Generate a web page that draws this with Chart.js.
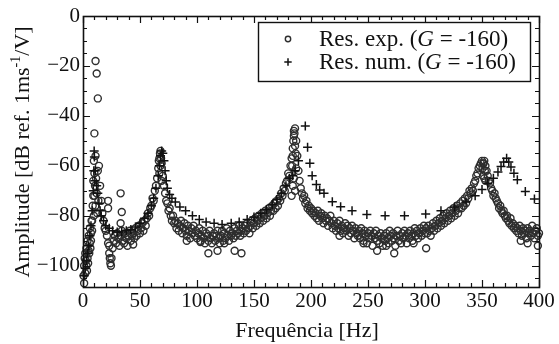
<!DOCTYPE html>
<html>
<head>
<meta charset="utf-8">
<script src="https://cdn.jsdelivr.net/npm/chart.js@4/dist/chart.umd.min.js"></script>
<style>
  html, body { margin: 0; padding: 0; background: #fff; }
</style>
</head>
<body>
<canvas id="frf" width="559" height="344"></canvas>
<script>
// measured response, one spectral line per Hz starting at 1 Hz
var expStartHz = 1;
var expAmp = [
  -107, -103, -100, -97, -94, -91, -87, -82, -72, -47,
  -18, -23, -33, -60, -68, -74, -79, -82, -85, -86,
  -88, -91, -95, -99, -97, -93, -90, -88, -91, -87,
  -89, -92, -88, -86, -90, -91, -87, -89, -92, -88,
  -86, -90, -88, -87, -89, -85, -88, -86, -84, -87,
  -85, -83, -86, -82, -84, -81, -79, -80, -77, -76,
  -73, -74, -70, -68, -65, -61, -57, -54, -59, -64,
  -68, -71, -74, -75, -78, -77, -80, -82, -80, -83,
  -82, -85, -83, -86, -84, -82, -87, -85, -83, -86,
  -88, -84, -86, -89, -85, -87, -84, -88, -86, -89,
  -87, -85, -90, -88, -86, -89, -91, -87, -88, -90,
  -86, -89, -91, -88, -87, -90, -88, -86, -89, -91,
  -88, -86, -90, -87, -89, -85, -88, -90, -86, -88,
  -87, -89, -85, -88, -86, -87, -84, -88, -86, -85,
  -87, -84, -86, -83, -85, -87, -84, -82, -85, -83,
  -81, -84, -82, -80, -83, -81, -79, -82, -80, -78,
  -81, -79, -77, -80, -78, -76, -78, -75, -77, -74,
  -76, -73, -74, -71, -72, -69, -70, -67, -66, -63,
  -64, -60, -57, -53, -48, -45, -50, -56, -62, -66,
  -69, -71, -73, -72, -75, -74, -77, -76, -78, -77,
  -79, -78, -80, -79, -81, -78, -82, -80, -79, -81,
  -83, -80, -82, -81, -84, -82, -80, -83, -85, -82,
  -84, -86, -83, -85, -82, -86, -84, -87, -85, -83,
  -86, -84, -88, -85, -87, -84, -86, -89, -85, -87,
  -88, -86, -89, -85, -87, -90, -86, -88, -91, -87,
  -89, -86, -88, -92, -87, -89, -86, -90, -88, -91,
  -87, -89, -92, -88, -90, -87, -89, -91, -86, -88,
  -90, -87, -89, -92, -88, -86, -90, -88, -91, -87,
  -89, -86, -88, -91, -87, -89, -86, -88, -90, -87,
  -85, -88, -86, -89, -87, -85, -88, -86, -84, -87,
  -85, -87, -84, -86, -88, -85, -83, -86, -84, -82,
  -85, -83, -81, -84, -82, -80, -83, -81, -79, -82,
  -80, -78, -81, -79, -77, -80, -78, -76, -79, -77,
  -75, -77, -74, -76, -73, -75, -72, -73, -70, -71,
  -69, -70, -67, -66, -64, -63, -61, -60, -59, -58,
  -59, -58, -60, -62, -64, -66, -67, -69, -70, -72,
  -71, -73, -74, -75, -77, -76, -78, -79, -78, -80,
  -81, -80, -82, -83, -81, -84, -83, -85, -84, -86,
  -85, -87, -84, -86, -88, -85, -87, -86, -89, -85,
  -87, -86, -88, -84, -87, -89, -86, -85, -88, -87
];

// extra measured points (zoom lines near the peaks, scattered low readings)
var expExtraHz = [
  0.5, 1, 1.5, 2, 2.5, 3, 3.5, 4, 4.5, 5, 5.5, 6, 6.5, 7, 7.5, 8,
  8.5, 9, 9.5, 9.5, 10, 10, 10.5, 11, 11, 11.5, 12, 12.5, 13, 13.5,
  22, 22, 33, 34, 33, 23, 23.5, 24.5,
  44, 91, 103, 110, 118, 124, 133, 139,
  66.5, 67.5, 68.5, 67, 69, 68,
  183.5, 184, 184.5, 185, 185.5, 186, 186.5, 187, 185, 184, 186, 183,
  225, 246, 258, 266, 273, 290, 301,
  350.5, 351.5, 352.5, 352, 353, 351,
  384, 390, 399
];
var expExtraAmp = [
  -104, -100, -97, -95, -98, -93, -102, -90, -99, -88, -95, -85, -93, -90, -82, -86,
  -76, -66, -58, -80, -63, -72, -68, -56, -76, -65, -71, -79, -62, -74,
  -74, -77, -71, -78.5, -83, -92, -97, -100,
  -91.5, -90, -90.5, -95, -94, -91, -94, -95,
  -58, -55, -57, -63, -66, -60,
  -60, -56, -50, -46, -47, -52, -55, -61, -65, -68, -70, -72,
  -88, -91, -94, -92, -95, -91, -93,
  -61, -59, -62, -65, -66, -64,
  -90, -91, -92
];

// numerical response
var numHz = [
  1, 2, 3, 4, 5, 6, 7, 8, 9, 9.5, 9.8, 10, 10.4, 10.8, 12, 13, 14, 15, 16, 18,
  20, 23, 26, 30, 34, 38, 42, 46, 50, 54, 57, 60, 62, 64, 66, 67, 68, 69, 70, 71,
  72, 73, 74, 76, 78, 81, 85, 90, 96, 102, 108, 115, 122, 130, 137, 144, 150, 156, 161, 166,
  170, 174, 178, 181, 184, 186, 189, 195, 197, 199, 201, 204.7, 207.6, 211.4, 218.7, 226, 236, 249, 265, 282,
  300.6, 314, 326, 336, 344, 350, 355, 360, 364, 366.7, 369, 371.6, 373.5, 375.4, 378, 381, 388, 396
];
var numAmp = [
  -104, -101, -98, -95, -92, -88, -84, -78, -70, -62, -54, -56.5, -66, -62, -68, -71, -75, -78, -80, -82,
  -84, -85, -86, -86.5, -86.5, -86, -85.5, -84.5, -83, -81, -79, -76, -73, -69, -64, -60, -56, -54, -55, -58,
  -62, -66, -69, -71.5, -73, -74.5, -76.5, -78, -80, -81.5, -82.5, -83, -83.5, -83, -82.5, -81.5, -80.5, -79, -77.5, -75.5,
  -73.5, -71, -68, -65, -64, -62, -58, -44, -52.5, -59, -64, -67.5, -69.7, -71, -74.4, -76.4, -78, -79.5, -80, -80,
  -79.3, -78, -76.5, -74.5, -72, -69.5, -67, -65, -62.5, -60.3, -58.5, -57, -58.5, -60.5, -63, -65.6, -70.3, -73.3
];

var xTicks = [0, 50, 100, 150, 200, 250, 300, 350, 400];
var yTicks = [0, -20, -40, -60, -80, -100];
var xMinorStep = 10;
var yMinorStep = 5;

var serif = '"Liberation Serif", "Times New Roman", serif';
var ink = '#111';

var expPoints = expAmp.map(function(a, i) { return { x: expStartHz + i, y: a }; });
expExtraHz.forEach(function(f, i) { expPoints.push({ x: f, y: expExtraAmp[i] }); });
var numPoints = numHz.map(function(f, i) { return { x: f, y: numAmp[i] }; });

// closed frame with inward ticks on all four sides
var frameTicks = {
  id: 'frameTicks',
  afterDatasetsDraw: function(chart) {
    var ctx = chart.ctx, a = chart.chartArea;
    var x = chart.scales.x, y = chart.scales.y;
    ctx.save();
    ctx.strokeStyle = ink;
    ctx.lineWidth = 1.2;
    ctx.beginPath();
    for (var v = x.min; v <= x.max; v += xMinorStep) {
      var px = Math.round(x.getPixelForValue(v)) + 0.5;
      var len = v % 50 === 0 ? 7 : 4;
      ctx.moveTo(px, a.bottom); ctx.lineTo(px, a.bottom - len);
      ctx.moveTo(px, a.top); ctx.lineTo(px, a.top + len);
    }
    for (var w = 0; w >= y.min; w -= yMinorStep) {
      var py = Math.round(y.getPixelForValue(w)) + 0.5;
      var l2 = w % 20 === 0 ? 7 : 4;
      ctx.moveTo(a.left, py); ctx.lineTo(a.left + l2, py);
      ctx.moveTo(a.right, py); ctx.lineTo(a.right - l2, py);
    }
    ctx.stroke();
    ctx.lineWidth = 1.6;
    ctx.strokeRect(Math.round(a.left) + 0.5, Math.round(a.top) + 0.5,
                   Math.round(a.right - a.left), Math.round(a.bottom - a.top));
    ctx.restore();
  }
};

// writes runs of text, each run with its own font
function drawRuns(ctx, runs, x, y) {
  runs.forEach(function(r) {
    ctx.font = r.font;
    ctx.fillText(r.text, x, y + (r.dy || 0));
    x += ctx.measureText(r.text).width;
  });
  return x;
}
function runsWidth(ctx, runs) {
  var w = 0;
  runs.forEach(function(r) { ctx.font = r.font; w += ctx.measureText(r.text).width; });
  return w;
}

var axisTitles = {
  id: 'axisTitles',
  afterDraw: function(chart) {
    var ctx = chart.ctx, a = chart.chartArea;
    ctx.save();
    ctx.fillStyle = ink;
    ctx.textBaseline = 'alphabetic';
    ctx.textAlign = 'left';

    var xr = [{ text: 'Frequência [Hz]', font: '22px ' + serif }];
    drawRuns(ctx, xr, (a.left + a.right) / 2 - 4 - runsWidth(ctx, xr) / 2, 337);

    var yr = [
      { text: 'Amplitude [dB ref. 1ms', font: '22px ' + serif },
      { text: '-1', font: '14px ' + serif, dy: -9 },
      { text: '/V]', font: '22px ' + serif }
    ];
    ctx.translate(29, 152);
    ctx.rotate(-Math.PI / 2);
    drawRuns(ctx, yr, -runsWidth(ctx, yr) / 2, 0);
    ctx.restore();
  }
};

// boxed legend with italic G in the labels
var boxLegend = {
  id: 'boxLegend',
  afterDraw: function(chart) {
    var ctx = chart.ctx, a = chart.chartArea;
    var left = a.left + 175, top = a.top + 6, w = 272, h = 59;
    ctx.save();
    ctx.fillStyle = '#fff';
    ctx.fillRect(left, top, w, h);
    ctx.strokeStyle = ink;
    ctx.lineWidth = 1.4;
    ctx.strokeRect(left + 0.5, top + 0.5, w, h);
    var f = '23px ' + serif, fi = 'italic 23px ' + serif;
    chart.data.datasets.forEach(function(ds, i) {
      var cy = top + 17 + i * 23;
      ctx.strokeStyle = ds.borderColor;
      ctx.fillStyle = 'rgba(0,0,0,0)';
      ctx.lineWidth = ds.borderWidth;
      Chart.helpers.drawPoint(ctx, { pointStyle: ds.pointStyle, radius: ds.pointRadius - 0.8, rotation: 0, borderWidth: ds.borderWidth }, left + 30, cy);
      ctx.fillStyle = ink;
      ctx.textBaseline = 'middle';
      drawRuns(ctx, [
        { text: ds.label + ' (', font: f },
        { text: 'G', font: fi },
        { text: ' = -160)', font: f }
      ], left + 61, cy + 1);
    });
    ctx.restore();
  }
};

new Chart(document.getElementById('frf'), {
  type: 'scatter',
  data: {
    datasets: [{
      label: 'Res. exp.',
      data: expPoints,
      pointStyle: 'circle',
      pointRadius: 3.5,
      borderWidth: 1.4,
      borderColor: '#2e2e2e',
      backgroundColor: 'rgba(0,0,0,0)',
      order: 1
    }, {
      label: 'Res. num.',
      data: numPoints,
      pointStyle: 'cross',
      pointRadius: 4.5,
      borderWidth: 1.5,
      borderColor: '#111',
      backgroundColor: '#111',
      order: 0
    }]
  },
  options: {
    responsive: false,
    animation: false,
    clip: false,
    layout: { padding: { top: 16, right: 20, left: 0, bottom: 0 } },
    plugins: { legend: { display: false }, tooltip: { enabled: false } },
    scales: {
      x: {
        type: 'linear',
        min: 0,
        max: 400,
        grid: { display: false },
        border: { display: false },
        afterFit: function(s) { s.height = 57; },
        afterBuildTicks: function(s) { s.ticks = xTicks.map(function(v) { return { value: v }; }); },
        ticks: { color: ink, padding: -6, maxRotation: 0, font: { family: serif, size: 21 } }
      },
      y: {
        type: 'linear',
        min: -108.5,
        max: 0,
        grid: { display: false, drawTicks: false, tickLength: 0 },
        border: { display: false },
        afterFit: function(s) { s.width = 83; },
        afterBuildTicks: function(s) { s.ticks = yTicks.map(function(v) { return { value: v }; }); },
        ticks: {
          color: ink,
          padding: 3,
          font: { family: serif, size: 21 },
          callback: function(v) { return v < 0 ? '\u2212' + Math.abs(v) : String(v); }
        }
      }
    }
  },
  plugins: [frameTicks, axisTitles, boxLegend]
});
</script>
</body>
</html>
